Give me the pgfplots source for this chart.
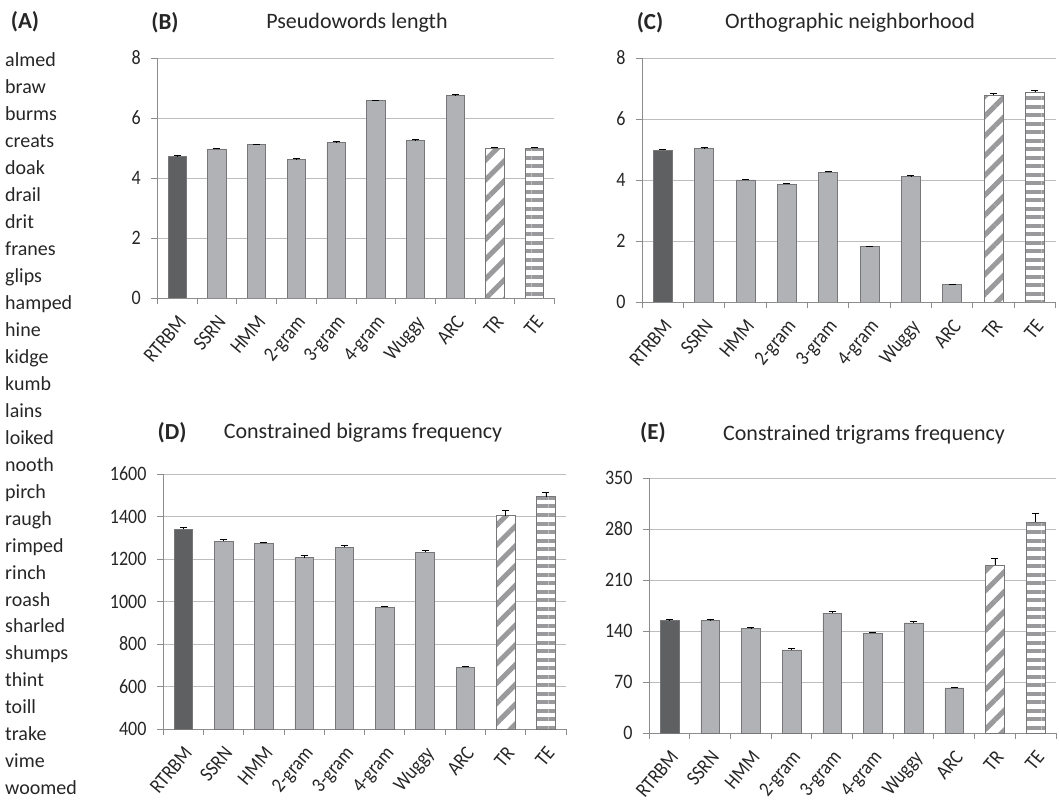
\documentclass[border=0pt]{standalone}
\usepackage{pgfplots}
\pgfplotsset{compat=1.18}
\usepackage{fontspec}
\setmainfont{Carlito}
\newfontfamily\tickfont{Carlito}[FakeStretch=0.88]
\usetikzlibrary{patterns.meta}
\definecolor{darkbar}{HTML}{5F6062}
\definecolor{lightbar}{HTML}{B1B2B6}
\definecolor{baredge}{HTML}{77777A}
\definecolor{stripe}{HTML}{9A9A9C}
\definecolor{gridc}{HTML}{BDBDBD}
\definecolor{axisc}{HTML}{8C8C8C}
\definecolor{txt}{HTML}{262626}

\pgfplotsset{
 panel/.style={
  scale only axis, anchor=south west,
  xmin=-0.5, xmax=9.5,
  ybar, bar width=0.46, bar shift=0pt,
  axis x line*=bottom, axis y line*=left,
  axis line style={-, draw=axisc, line width=0.8pt},
  ymajorgrids, grid style={draw=gridc, line width=0.8pt},
  xtick={0,...,9},
  xticklabels={RTRBM,SSRN,HMM,2-gram,3-gram,4-gram,Wuggy,ARC,TR,TE},
  minor xtick={-0.5,0.5,...,9.5},
  major x tick style={draw=none},
  minor x tick style={draw=axisc, line width=0.8pt},
  xtick align=outside, ytick align=outside,
  minor tick length=6pt, major tick length=6pt,
  ytick style={draw=axisc, line width=0.8pt},
  tick label style={font=\tickfont\fontsize{20.5}{23}\selectfont, text=txt},
  /pgf/number format/assume math mode=true,
  /pgf/number format/1000 sep={},
  xticklabel style={xshift=8pt, yshift=-17pt, rotate=50, anchor=east, inner sep=0pt, text height=0.7em, text depth=0.2em},
  yticklabel style={inner sep=0pt, xshift=-10.5pt},
  error bars/y dir=plus, error bars/y explicit,
  error bars/error bar style={black, line width=0.6pt},
  error bars/error mark options={black, line width=0.6pt, mark size=3.5pt, rotate=90},
 },
 rtrbm/.style={fill=darkbar, draw=baredge, line width=0.7pt},
 model/.style={fill=lightbar, draw=baredge, line width=0.7pt},
 trbar/.style={fill=white, draw=baredge, line width=0.7pt,
   postaction={pattern={Lines[angle=45, distance=14pt, line width=5pt]}, pattern color=stripe}},
 tebar/.style={fill=white, draw=baredge, line width=0.7pt,
   postaction={pattern={Lines[angle=0, distance=8.5pt, line width=4pt]}, pattern color=stripe}},
}

\begin{document}
\begin{tikzpicture}[x=1pt,y=1pt]
\useasboundingbox (0,0) rectangle (1060,804);

% (A) word list
\node[font=\bfseries\fontsize{23}{26}\selectfont, text=txt] at (25,782) {(A)};
\foreach \w [count=\i from 0] in {almed,braw,burms,creats,doak,drail,drit,franes,glips,hamped,hine,kidge,kumb,lains,loiked,nooth,pirch,raugh,rimped,rinch,roash,sharled,shumps,thint,toill,trake,vime,woomed}{
  \node[anchor=west, inner sep=0pt, font=\fontsize{20}{24}\selectfont, text=txt] at (5,{804-62-\i*26.96}) {\strut\w};
}

% (B)
\node[font=\bfseries\fontsize{23}{26}\selectfont, text=txt] at (165,781) {(B)};
\node[font=\fontsize{22}{26}\selectfont, text=txt] at (357,781) {Pseudowords length};
\begin{axis}[panel, at={(157.4pt,506pt)}, width=397pt, height=240pt,
  ymin=0, ymax=8, ytick={0,2,4,6,8}]
\addplot[rtrbm] coordinates {(0,4.73) +- (0,0.02)};
\addplot[model] coordinates {(1,4.97) +- (0,0.02) (2,5.11) +- (0,0.02) (3,4.63) +- (0,0.02) (4,5.19) +- (0,0.02) (5,6.58) +- (0,0.02) (6,5.26) +- (0,0.02) (7,6.76) +- (0,0.02)};
\addplot[trbar] coordinates {(8,5.00) +- (0,0.02)};
\addplot[tebar] coordinates {(9,5.00) +- (0,0.02)};
\end{axis}

% (C)
\node[font=\bfseries\fontsize{23}{26}\selectfont, text=txt] at (650,781) {(C)};
\node[font=\fontsize{22}{26}\selectfont, text=txt] at (850,781) {Orthographic neighborhood};
\begin{axis}[panel, at={(642.2pt,502pt)}, width=413.3pt, height=244pt,
  ymin=0, ymax=8, ytick={0,2,4,6,8}]
\addplot[rtrbm] coordinates {(0,4.98) +- (0,0.02)};
\addplot[model] coordinates {(1,5.04) +- (0,0.02) (2,4.00) +- (0,0.02) (3,3.86) +- (0,0.03) (4,4.25) +- (0,0.03) (5,1.81) +- (0,0.02) (6,4.11) +- (0,0.03) (7,0.57) +- (0,0.02)};
\addplot[trbar] coordinates {(8,6.78) +- (0,0.07)};
\addplot[tebar] coordinates {(9,6.88) +- (0,0.06)};
\end{axis}

% (D)
\node[font=\bfseries\fontsize{23}{26}\selectfont, text=txt] at (172,371) {(D)};
\node[font=\fontsize{22}{26}\selectfont, text=txt] at (363,371) {Constrained bigrams frequency};
\begin{axis}[panel, at={(163.2pt,75pt)}, width=402.8pt, height=255pt,
  ymin=400, ymax=1600, ytick={400,600,...,1600}]
\addplot[rtrbm] coordinates {(0,1340) +- (0,9)};
\addplot[model] coordinates {(1,1284) +- (0,9) (2,1273) +- (0,6) (3,1207) +- (0,11) (4,1255) +- (0,9) (5,973) +- (0,6) (6,1232) +- (0,9) (7,691) +- (0,5)};
\addplot[trbar] coordinates {(8,1404) +- (0,25)};
\addplot[tebar] coordinates {(9,1494) +- (0,20)};
\end{axis}

% (E)
\node[font=\bfseries\fontsize{23}{26}\selectfont, text=txt] at (653,371) {(E)};
\node[font=\fontsize{22}{26}\selectfont, text=txt] at (864,369) {Constrained trigrams frequency};
\begin{axis}[panel, at={(649.2pt,71pt)}, width=406.7pt, height=255pt,
  ymin=0, ymax=350, ytick={0,70,...,350}]
\addplot[rtrbm] coordinates {(0,154) +- (0,2.3)};
\addplot[model] coordinates {(1,154) +- (0,2.3) (2,143) +- (0,2) (3,114) +- (0,2) (4,164.7) +- (0,2.7) (5,137) +- (0,1.4) (6,151) +- (0,2) (7,61.8) +- (0,1.4)};
\addplot[trbar] coordinates {(8,230.5) +- (0,9)};
\addplot[tebar] coordinates {(9,289) +- (0,12)};
\end{axis}
\end{tikzpicture}
\end{document}
